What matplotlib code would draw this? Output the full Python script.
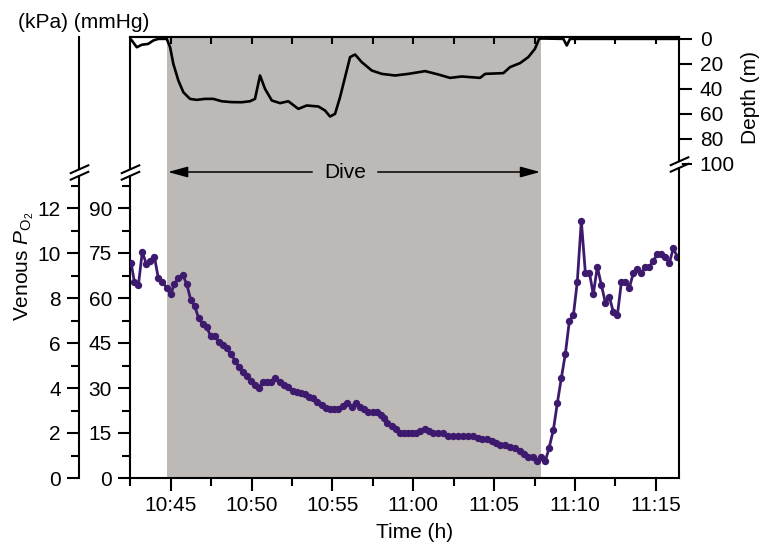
import numpy as np
import matplotlib
matplotlib.use('Agg')
import matplotlib.pyplot as plt
from matplotlib.path import Path
from matplotlib.ticker import FixedLocator

plt.rcParams['font.family'] = ['Liberation Sans', 'DejaVu Sans']
plt.rcParams['mathtext.fontset'] = 'custom'
plt.rcParams['mathtext.rm'] = 'Liberation Sans'
plt.rcParams['mathtext.it'] = 'Liberation Sans:italic'
plt.rcParams['font.size'] = 15

# время в минутах от 10:00
po2_t = [42.55, 42.75, 43.00, 43.24, 43.49, 43.74, 43.99, 44.23, 44.48, 44.75,
         45.00, 45.22, 45.47, 45.74, 45.99, 46.24, 46.48, 46.73, 46.98, 47.23,
         47.47, 47.72, 47.97, 48.22, 48.46, 48.73, 48.98, 49.22, 49.47, 49.72,
         49.97, 50.21, 50.46, 50.71, 50.96, 51.20, 51.45, 51.76, 52.01, 52.27,
         52.54, 52.79, 53.04, 53.31, 53.57, 53.82, 54.07, 54.34, 54.60, 54.85,
         55.10, 55.36, 55.64, 55.92, 56.19, 56.46, 56.71, 56.95, 57.22, 57.49,
         57.74, 57.99, 58.19, 58.39, 58.67, 58.93, 59.18, 59.43, 59.69, 59.92,
         60.17, 60.42, 60.72, 60.99, 61.24, 61.53, 61.86, 62.17, 62.46, 62.77,
         63.08, 63.38, 63.71, 63.97, 64.23, 64.54, 64.85, 65.12, 65.36, 65.67,
         65.98, 66.29, 66.60, 66.85, 67.11, 67.39, 67.63, 67.90, 68.17, 68.39,
         68.66, 68.91, 69.15, 69.40, 69.65, 69.90, 70.14, 70.39, 70.64, 70.89,
         71.13, 71.38, 71.63, 71.88, 72.12, 72.37, 72.62, 72.87, 73.11, 73.36,
         73.61, 73.86, 74.10, 74.35, 74.60, 74.84, 75.09, 75.34, 75.59, 75.83,
         76.08, 76.33]
# венозное PO2, mmHg
po2 = [71.6, 65.4, 64.3, 75.4, 71.3, 72.4, 73.8, 66.6, 65.4, 63.4,
       61.3, 64.6, 66.6, 67.7, 64.6, 59.3, 57.3, 53.2, 51.2, 50.2,
       47.3, 47.3, 45.4, 44.3, 43.2, 41.2, 39.1, 37.1, 35.2, 34.1,
       32.4, 31.0, 30.1, 32.1, 32.1, 32.1, 33.4, 32.1, 31.0, 30.2,
       29.1, 28.8, 28.2, 27.9, 27.1, 26.6, 25.4, 24.3, 23.2, 22.9,
       22.9, 22.9, 24.0, 25.1, 23.8, 25.1, 23.8, 22.9, 22.1, 22.1,
       22.1, 21.0, 19.9, 18.2, 17.3, 16.2, 15.1, 15.1, 15.1, 15.1,
       15.1, 15.6, 16.2, 15.8, 15.1, 15.1, 15.1, 14.0, 14.0, 14.0,
       14.0, 14.0, 14.0, 13.5, 12.9, 12.9, 12.4, 11.6, 11.0, 11.0,
       10.2, 9.9, 9.1, 8.0, 7.1, 7.1, 5.8, 7.1, 5.8, 9.9,
       16.0, 25.1, 33.2, 41.3, 52.3, 54.3, 65.4, 85.7, 68.4, 68.4,
       61.3, 70.4, 64.3, 58.4, 60.4, 55.3, 54.3, 65.4, 65.4, 63.4,
       68.4, 69.6, 68.4, 70.4, 70.4, 72.4, 74.6, 74.6, 73.6, 71.6,
       76.6, 73.6]

# глубина, м
depth_t = [42.50, 42.59, 42.90, 43.21, 43.61, 43.92, 44.23, 44.75, 44.96, 45.16,
           45.47, 45.78, 46.19, 46.61, 47.12, 47.63, 48.15, 48.77, 49.39, 49.90,
           50.21, 50.52, 50.83, 51.25, 51.76, 52.27, 52.89, 53.41, 54.13, 54.54,
           54.85, 55.16, 55.47, 55.78, 56.09, 56.40, 56.81, 57.43, 58.05, 58.87,
           59.69, 60.73, 61.55, 62.27, 63.00, 64.13, 64.44, 65.57, 65.98, 66.60,
           67.11, 67.52, 67.78, 67.94, 69.28, 69.49, 69.69, 76.5]
depth = [0.3, 1.6, 7.0, 5.0, 4.3, 1.6, 0.3, 0.3, 7.0, 20.3,
         33.6, 43.0, 48.3, 49.1, 48.3, 48.3, 50.2, 50.9, 51.0, 50.2,
         48.3, 29.6, 40.3, 49.6, 51.7, 50.2, 56.3, 53.6, 54.4, 57.6,
         62.4, 60.3, 46.9, 30.9, 14.9, 12.8, 18.9, 25.6, 28.3, 29.6,
         28.3, 26.1, 28.8, 31.5, 30.4, 31.5, 28.3, 27.7, 22.9, 19.7,
         14.9, 8.3, 0.3, 0.0, 0.3, 5.6, 0.3, 0.3]

dive_start = 44.75
dive_end = 67.9

x_ticks = [45, 50, 55, 60, 65, 70, 75]
x_labels = ['10:45', '10:50', '10:55', '11:00', '11:05', '11:10', '11:15']
mmhg_ticks = [0, 15, 30, 45, 60, 75, 90]
kpa_ticks = [0, 2, 4, 6, 8, 10, 12]
depth_ticks = [0, 20, 40, 60, 80, 100]

W, H = 773, 545
fig = plt.figure(figsize=(W / 100, H / 100), dpi=100)

def px(x, y):
    return x / W, 1 - y / H

L, R, T, B = 130, 679, 37, 478
ax = fig.add_axes([L / W, 1 - B / H, (R - L) / W, (B - T) / H])
ax.set_facecolor('none')
lw = 1.5
purple = '#3d1a6e'
grey = '#bdb9b6'

ax.axvspan(dive_start, dive_end, color=grey, lw=0, zorder=0)
ax.plot(po2_t, po2, '-o', color=purple, lw=2.0, ms=5.3, mew=0, zorder=3)
ax.set_xlim(42.48, 76.43)
ax.set_ylim(0, (B - T) / 3)
ax.set_xticks(x_ticks)
ax.set_xticklabels(x_labels)
ax.xaxis.set_minor_locator(FixedLocator(np.arange(42.5, 76, 2.5)))
ax.yaxis.set_major_locator(FixedLocator(mmhg_ticks))
ax.yaxis.set_minor_locator(FixedLocator(np.arange(7.5, 100, 15)))
ax.tick_params(which='major', length=9, width=lw, pad=4, direction='out')
ax.tick_params(which='minor', length=5.5, width=lw, direction='out')
ax.tick_params(right=False, top=False)
for s in ax.spines.values():
    s.set_linewidth(lw)
ax.spines['right'].set_visible(False)

top = ax.secondary_xaxis('top')
top.set_xticks(list(np.arange(45, 76, 2.5)))
top.tick_params(direction='in', length=5, width=lw, labeltop=False)
top.spines['top'].set_linewidth(lw)

# глубина
axd = ax.twinx()
axd.plot(depth_t, depth, color='black', lw=1.9, zorder=3)
axd.set_ylim((B - 38.5) / 1.25, -(38.5 - T) / 1.25)
axd.yaxis.set_major_locator(FixedLocator(depth_ticks))
axd.tick_params(length=9, width=lw, pad=6)
for k in ['left', 'top', 'bottom']:
    axd.spines[k].set_visible(False)
axd.spines['right'].set_linewidth(lw)
axd.set_xlim(ax.get_xlim())

# ось kPa
axk = fig.add_axes([79 / W, 1 - B / H, 0.001, (B - T) / H])
axk.patch.set_visible(False)
for k in ['right', 'top', 'bottom']:
    axk.spines[k].set_visible(False)
axk.spines['left'].set_linewidth(lw)
axk.set_xticks([])
axk.set_ylim(0, (B - T) / 3 / 7.5)
axk.yaxis.set_major_locator(FixedLocator(kpa_ticks))
axk.yaxis.set_minor_locator(FixedLocator(np.arange(1, 14, 2)))
axk.tick_params(which='major', length=9, width=lw, pad=4)
axk.tick_params(which='minor', length=5.5, width=lw)

# разрывы осей
brk = Path([(-1, -0.78), (1, 0.11), (-1, -0.11), (1, 0.78)],
           [Path.MOVETO, Path.LINETO, Path.MOVETO, Path.LINETO])
def axis_break(a, xa, yv):
    tr = a.get_yaxis_transform()
    a.plot([xa], [yv], marker='|', ms=4.3, mew=4, color='white',
           transform=tr, clip_on=False, zorder=6)
    a.plot([xa], [yv], marker=brk, ms=14, mew=lw, mec='black', mfc='none',
           transform=tr, clip_on=False, zorder=7)

axis_break(ax, 0, 102)
axis_break(axk, 0, 102 / 7.5)
axis_break(axd, 1, 100)

# стрелка "Dive"
ax.text(55.8, 102, 'Dive', ha='center', va='center', zorder=5)
arr = dict(arrowstyle='-|>,head_length=0.8,head_width=0.22', color='black',
           lw=1.1, shrinkA=0, shrinkB=0)
ax.annotate('', xy=(dive_start + 0.08, 102), xytext=(53.75, 102), arrowprops=arr)
ax.annotate('', xy=(dive_end - 0.06, 102), xytext=(57.8, 102), arrowprops=arr)

fig.text(*px(84, 22), '(kPa) (mmHg)', ha='center', va='center')
fig.text(*px(415, 533), 'Time (h)', ha='center', va='center')
fig.text(*px(750, 98), 'Depth (m)', ha='center', va='center', rotation=90)
fig.text(*px(24, 266), r'Venous $\mathit{P}_{\mathrm{O_2}}$', ha='center',
         va='center', rotation=90)

fig.savefig('out.png', dpi=100)
